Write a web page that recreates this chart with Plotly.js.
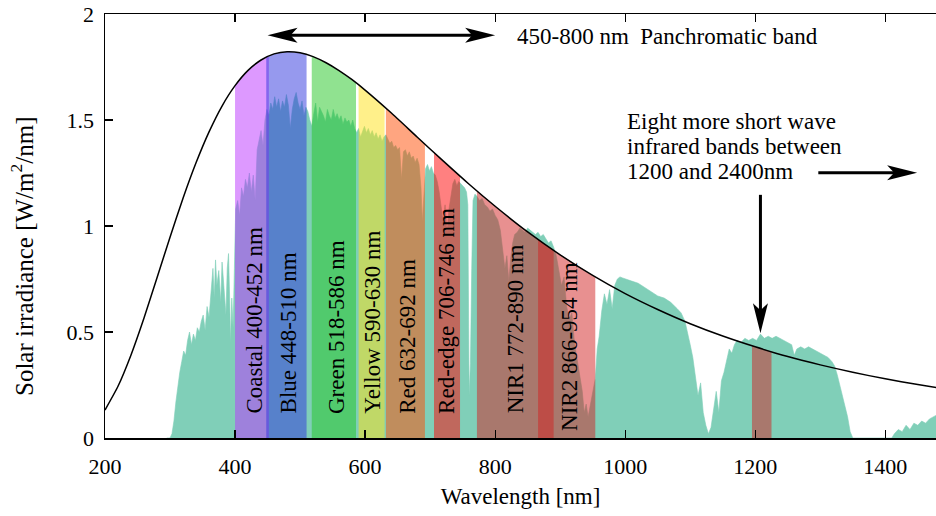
<!DOCTYPE html>
<html><head><meta charset="utf-8">
<script src="https://cdn.plot.ly/plotly-3.0.1.min.js"></script>
<style>
html,body{margin:0;padding:0;background:#fff}
#chart{width:936px;height:516px}
#chart svg text{font-family:"Liberation Serif",serif !important;}
</style>
</head><body><div id="chart"></div>
<script>
// ---------- DATA ----------
const bbWavelength = [200,220,240,260,280,300,320,340,360,380,400,420,440,460,480,500,520,540,560,580,600,640,680,720,760,800,850,900,950,1000,1050,1100,1150,1200,1250,1300,1350,1400,1450,1480];
const bbIrradiance = [0.132,0.244,0.392,0.566,0.756,0.947,1.131,1.298,1.444,1.566,1.662,1.734,1.783,1.812,1.822,1.817,1.799,1.770,1.733,1.690,1.641,1.534,1.420,1.307,1.197,1.093,0.972,0.864,0.767,0.681,0.606,0.539,0.481,0.430,0.384,0.345,0.310,0.279,0.252,0.237];

const solarWavelength = [
 295,300,303,306,309,312,315,318,321,324,327,330,333,336,339,342,345,348,351,354,357,360,363,366,368,370,372,375,378,380,382,384,386,388,390,392,393,395,397,399,
 401,404,407,410,413,416,419,422,425,428,431,434,437,440,443,446,449,452,455,458,461,464,467,470,473,476,479,482,485,488,491,494,497,500,503,506,509,512,515,518,
 521,524,527,530,533,536,539,542,545,548,551,554,557,560,563,566,569,572,575,578,581,584,587,590,593,596,599,602,605,608,611,614,617,620,623,626,629,632,635,638,
 641,644,647,650,653,656,659,662,665,668,671,674,677,680,683,686,688,690,693,696,699,702,705,708,711,714,717,720,723,726,729,732,735,738,741,744,747,750,753,756,
 758,760,762,764,766,769,772,776,780,784,788,792,796,800,804,808,812,815,818,821,824,827,830,834,838,842,846,850,854,858,862,866,870,874,878,882,886,890,894,898,
 902,906,910,914,918,922,926,930,934,937,940,943,946,950,954,957,960,964,968,972,976,980,984,988,992,996,1000,1010,1020,1030,1040,1050,1060,1070,1080,1086,1092,1096,1100,1104,
 1108,1112,1116,1120,1124,1128,1132,1136,1140,1144,1148,1152,1156,1160,1164,1168,1172,1178,1184,1190,1196,1202,1208,1214,1220,1226,1232,1238,1244,1250,1256,1260,1264,1270,1276,1282,1288,1294,1300,1306,
 1312,1318,1322,1326,1330,1334,1338,1342,1346,1350,1410,1414,1420,1426,1432,1438,1444,1450,1456,1462,1468,1474,1480];
const solarIrradiance = [
 0,0,0.02,0.08,0.17,0.25,0.31,0.36,0.41,0.39,0.46,0.50,0.44,0.49,0.46,0.52,0.50,0.55,0.58,0.51,0.62,0.57,0.70,0.80,0.66,0.84,0.72,0.79,0.64,0.83,0.75,0.68,0.58,0.80,0.87,0.62,0.45,0.66,0.52,0.80,
 1.08,1.12,1.05,1.18,1.14,1.22,1.18,1.25,1.16,1.24,1.12,1.36,1.40,1.45,1.38,1.50,1.55,1.52,1.58,1.55,1.61,1.56,1.60,1.54,1.59,1.56,1.62,1.57,1.46,1.55,1.60,1.63,1.58,1.55,1.59,1.52,1.56,1.54,1.50,1.47,
 1.53,1.58,1.49,1.56,1.54,1.52,1.49,1.55,1.52,1.50,1.55,1.51,1.53,1.50,1.52,1.48,1.51,1.49,1.50,1.47,1.50,1.46,1.44,1.46,1.42,1.45,1.47,1.44,1.46,1.43,1.45,1.42,1.44,1.41,1.43,1.40,1.42,1.43,1.41,1.39,
 1.40,1.37,1.38,1.36,1.37,1.22,1.35,1.36,1.33,1.35,1.32,1.33,1.30,1.32,1.29,1.18,1.02,1.15,1.27,1.29,1.26,1.28,1.25,1.24,1.21,1.16,1.08,1.02,1.10,0.97,1.08,1.15,1.20,1.22,1.19,1.21,1.20,1.19,1.18,1.16,
 1.10,0.20,0.35,0.80,1.12,1.15,1.14,1.12,1.13,1.10,1.09,1.07,1.08,1.05,1.03,0.98,0.88,0.80,0.86,0.74,0.85,0.92,0.96,0.97,0.99,0.98,0.97,0.99,0.98,0.97,0.96,0.97,0.95,0.96,0.94,0.92,0.93,0.90,0.86,0.79,
 0.72,0.76,0.62,0.56,0.59,0.45,0.38,0.29,0.22,0.12,0.16,0.10,0.15,0.20,0.28,0.42,0.48,0.60,0.68,0.63,0.70,0.61,0.72,0.75,0.76,0.755,0.75,0.74,0.73,0.71,0.69,0.67,0.66,0.64,0.61,0.59,0.55,0.50,0.44,0.38,
 0.30,0.20,0.26,0.12,0.06,0.02,0.05,0.14,0.22,0.12,0.27,0.31,0.36,0.42,0.40,0.44,0.46,0.45,0.47,0.46,0.47,0.46,0.49,0.47,0.48,0.47,0.48,0.47,0.46,0.45,0.44,0.39,0.42,0.43,0.42,0.43,0.42,0.41,0.40,0.39,
 0.38,0.36,0.34,0.30,0.25,0.20,0.15,0.10,0.03,0,0,0.02,0.04,0.03,0.06,0.04,0.07,0.06,0.08,0.07,0.09,0.10,0.11];

const bandNames = ["Coastal 400-452 nm","Blue 448-510 nm","Green 518-586 nm","Yellow 590-630 nm","Red 632-692 nm","Red-edge 706-746 nm","NIR1 772-890 nm","NIR2 866-954 nm",""];
const bandStart = [400,448,518,590,632,706,772,866,1195];
const bandEnd   = [452,510,586,630,692,746,890,954,1225];

const xTickValues = [200,400,600,800,1000,1200,1400];
const yTickValues = [0,0.5,1,1.5,2];
const yTickLabels = ["0","0.5","1","1.5","2"];

// ---------- STYLE / LAYOUT ----------
const bandColors = ["rgba(187,51,255,0.5)","rgba(45,51,221,0.5)","rgba(33,197,33,0.5)","rgba(255,225,21,0.5)",
  "rgba(255,75,1,0.5)","rgba(255,1,1,0.5)","rgba(209,33,33,0.5)","rgba(209,33,33,0.5)","rgba(209,33,33,0.5)"];
const labelX = [428.5,482,556,610,664,725,831,915];
const labelBottom = [0.106,0.106,0.106,0.106,0.106,0.106,0.106,0.026];
const FONT = "Liberation Serif";
const XR = [200,1478], YR = [0,2];
const M = {l:105,r:0,t:14,b:78};
const pxPerX = (936-M.l-M.r)/(XR[1]-XR[0]);
const pxPerY = (516-M.t-M.b)/(YR[1]-YR[0]);

function interp(xs, ys, x){
  for(let i=1;i<xs.length;i++){
    if(x<=xs[i]){ const t=(x-xs[i-1])/(xs[i]-xs[i-1]); return ys[i-1]+t*(ys[i]-ys[i-1]); }
  }
  return ys[ys.length-1];
}

const traces = [];
traces.push({x:solarWavelength, y:solarIrradiance, type:'scatter', mode:'lines', fill:'tozeroy',
  fillcolor:'rgb(128,207,184)', line:{color:'rgb(128,207,184)', width:0.6}, hoverinfo:'skip'});

for(let i=0;i<bandStart.length;i++){
  const a=bandStart[i], b=bandEnd[i];
  const px=[a,a], py=[0, interp(bbWavelength,bbIrradiance,a)];
  bbWavelength.forEach((w,k)=>{ if(w>a && w<b){ px.push(w); py.push(bbIrradiance[k]); } });
  px.push(b,b); py.push(interp(bbWavelength,bbIrradiance,b),0);
  traces.push({x:px, y:py, type:'scatter', mode:'lines', fill:'toself', fillcolor:bandColors[i],
    line:{width:0, color:'rgba(0,0,0,0)'}, hoverinfo:'skip'});
}
traces.push({x:bbWavelength, y:bbIrradiance, type:'scatter', mode:'lines', line:{color:'#000', width:1.5, shape:'spline', smoothing:0.6}, hoverinfo:'skip'});

// arrows
const shapes = [];
function head(x, y, dir){
  const paths = {
    right:'M0,0 L-30,-7.5 L-23,0 L-30,7.5 Z',
    left:'M0,0 L30,-7.5 L23,0 L30,7.5 Z',
    down:'M0,0 L-7.5,30 L0,23 L7.5,30 Z'
  };
  shapes.push({type:'path', xref:'x', yref:'y', xsizemode:'pixel', ysizemode:'pixel', xanchor:x, yanchor:y,
    path:paths[dir], fillcolor:'#000', line:{width:0}});
}
function shaft(x0,y0,x1,y1){
  shapes.push({type:'line', xref:'x', yref:'y', x0:x0, y0:y0, x1:x1, y1:y1, line:{color:'#000', width:3}});
}
const panY = 1.9;
shaft(450+15/pxPerX, panY, 800-15/pxPerX, panY);
head(450, panY, 'left'); head(800, panY, 'right');
const swY = 1.251;
shaft(1297, swY, 1449-15/pxPerX, swY); head(1449, swY, 'right');
const dX = 1208;
shaft(dX, 1.147, dX, 0.494+15/pxPerY); head(dX, 0.494, 'down');

const txtFont = {family:FONT, size:23, color:'#000'};
const annotations = [];
bandNames.forEach((n,i)=>{
  if(!n) return;
  annotations.push({text:n, x:labelX[i], y:labelBottom[i], xref:'x', yref:'y', textangle:-90,
    xanchor:'center', yanchor:'bottom', showarrow:false, font:txtFont});
});
annotations.push({text:'450-800 nm  Panchromatic band', x:831, y:1.895, xref:'x', yref:'y', xanchor:'left', yanchor:'middle', showarrow:false, font:txtFont});
const swLines = ['Eight more short wave','infrared bands between','1200 and 2400nm'];
const swLineY = [1.492,1.374,1.255];
swLines.forEach((t,i)=>annotations.push({text:t, x:1000, y:swLineY[i], xref:'x', yref:'y', xanchor:'left', yanchor:'middle', showarrow:false, font:txtFont}));
// y-axis title (placed as in the reference, slightly below the plot centre)
annotations.push({text:'Solar irradiance [W/m<sup>2</sup>/nm]', xref:'paper', yref:'paper', x:(22-M.l)/(936-M.l-M.r), y:(516-M.b-257)/(516-M.t-M.b),
  xanchor:'center', yanchor:'middle', textangle:-90, showarrow:false, font:{family:FONT,size:25,color:'#000'}});

const axFont = {family:FONT, size:22, color:'#000'};
const layout = {
  width:936, height:516, margin:M, showlegend:false,
  paper_bgcolor:'#fff', plot_bgcolor:'#fff',
  font:axFont,
  xaxis:{range:XR, tickvals:xTickValues, ticks:'inside', ticklen:8, tickwidth:1.2, tickcolor:'#000',
    showline:true, linecolor:'#000', linewidth:1.5, mirror:'ticks', showgrid:false, zeroline:false,
    ticklabelstandoff:8, tickfont:axFont,
    title:{text:'Wavelength [nm]', standoff:10, font:{family:FONT,size:23,color:'#000'}}},
  yaxis:{range:YR, tickvals:yTickValues, ticktext:yTickLabels, ticks:'inside', ticklen:8, tickwidth:1.2, tickcolor:'#000',
    showline:true, linecolor:'#000', linewidth:1.5, mirror:false, showgrid:false, zeroline:false,
    ticklabelstandoff:5, tickfont:axFont},
  shapes:shapes, annotations:annotations
};
Plotly.newPlot('chart', traces, layout, {displayModeBar:false, staticPlot:true});
</script></body></html>
